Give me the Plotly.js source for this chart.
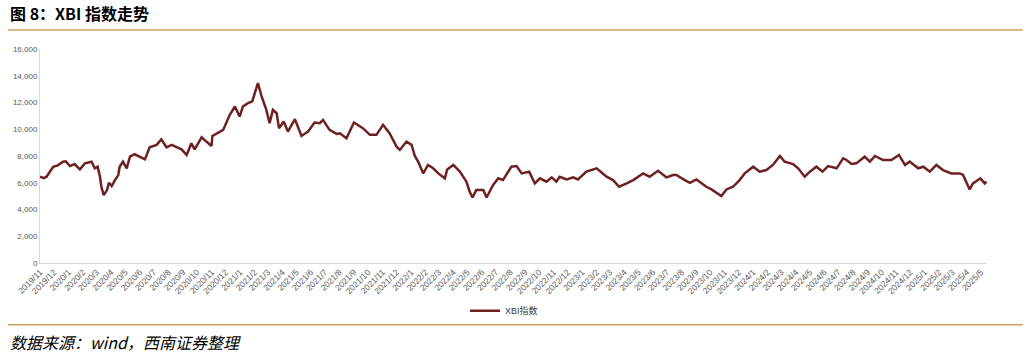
<!DOCTYPE html>
<html>
<head>
<meta charset="utf-8">
<script src="https://cdn.plot.ly/plotly-3.0.1.min.js"></script>
<style>
  html, body { margin: 0; padding: 0; background: #ffffff; }
  #chart { width: 1032px; height: 357px; }
</style>
</head>
<body>
<div id="chart"></div>
<script>
// ---- data ----
const seriesName = "XBI指数";
const dates = [
  "2019-11-01","2019-11-09","2019-11-15","2019-11-29","2019-12-09","2019-12-20","2019-12-26",
  "2020-01-04","2020-01-14","2020-01-25","2020-02-05","2020-02-19","2020-02-26","2020-03-03",
  "2020-03-08","2020-03-11","2020-03-16","2020-03-23","2020-03-27","2020-04-02","2020-04-09",
  "2020-04-16","2020-04-19","2020-04-26","2020-05-04","2020-05-11","2020-05-21","2020-06-01",
  "2020-06-12","2020-06-22","2020-07-07","2020-07-17","2020-07-28","2020-08-08","2020-08-18",
  "2020-08-29","2020-09-09","2020-09-19","2020-09-26","2020-10-11","2020-10-21","2020-11-01",
  "2020-11-03","2020-11-15","2020-11-26","2020-12-10","2020-12-21","2020-12-31","2021-01-07",
  "2021-01-18","2021-01-27","2021-02-08","2021-02-16","2021-02-26","2021-03-05","2021-03-12",
  "2021-03-20","2021-03-25","2021-04-04","2021-04-13","2021-04-28","2021-05-12","2021-05-26",
  "2021-06-09","2021-06-20","2021-06-27","2021-07-11","2021-07-26","2021-08-02","2021-08-16",
  "2021-09-01","2021-09-20","2021-10-05","2021-10-19","2021-11-02","2021-11-16","2021-12-01",
  "2021-12-08","2021-12-22","2022-01-02","2022-01-09","2022-01-16","2022-01-27","2022-02-06",
  "2022-02-17","2022-02-28","2022-03-14","2022-03-19","2022-04-01","2022-04-15","2022-04-29",
  "2022-05-06","2022-05-12","2022-05-20","2022-06-04","2022-06-11","2022-06-25","2022-07-06",
  "2022-07-16","2022-08-03","2022-08-14","2022-08-25","2022-09-10","2022-09-22","2022-10-03",
  "2022-10-17","2022-10-28","2022-11-07","2022-11-14","2022-11-29","2022-12-13","2022-12-23",
  "2023-01-10","2023-02-01","2023-02-22","2023-03-08","2023-03-21","2023-04-06","2023-04-20",
  "2023-05-11","2023-05-25","2023-06-12","2023-06-30","2023-07-14","2023-07-21","2023-08-08",
  "2023-08-19","2023-09-02","2023-09-23","2023-10-04","2023-10-25","2023-11-05","2023-11-19",
  "2023-12-03","2023-12-14","2024-01-01","2024-01-15","2024-01-29","2024-02-12","2024-02-27",
  "2024-03-08","2024-03-26","2024-04-06","2024-04-20","2024-05-01","2024-05-15","2024-05-28",
  "2024-06-09","2024-06-27","2024-07-11","2024-07-18","2024-07-29","2024-08-08","2024-08-26",
  "2024-09-06","2024-09-17","2024-10-04","2024-10-22","2024-11-07","2024-11-20","2024-11-30",
  "2024-12-18","2024-12-29","2025-01-12","2025-01-26","2025-02-09","2025-02-27","2025-03-17",
  "2025-03-24","2025-04-07","2025-04-14","2025-04-30","2025-05-09","2025-05-13"
];
const xbiValues = [
  6450,6350,6450,7200,7300,7575,7600,
  7250,7400,7000,7450,7575,7080,7200,
  6450,5700,5080,5450,6000,5750,6200,
  6575,7200,7575,7075,7950,8130,7950,
  7750,8650,8830,9250,8650,8830,8650,
  8500,8080,8950,8500,9400,9080,8750,
  9500,9750,9950,11080,11700,10950,11700,
  11950,12080,13450,12450,11450,10450,11450,
  11200,10080,10580,9830,10750,9500,9830,
  10500,10450,10700,9950,9650,9700,9330,
  10500,10080,9580,9580,10330,9700,8700,
  8450,9080,8830,8000,7575,6700,7330,
  7080,6700,6330,7000,7330,6830,6080,
  5330,4900,5450,5450,4900,5830,6330,
  6200,7200,7250,6700,6830,5950,6330,
  6080,6400,6080,6450,6250,6400,6250,
  6830,7080,6450,6200,5700,5950,6200,
  6700,6450,6900,6400,6580,6580,6200,
  6000,6250,5700,5500,5000,5500,5700,
  6200,6700,7200,6830,6950,7330,8000,
  7580,7400,7080,6450,6830,7200,6830,
  7250,7080,7830,7700,7400,7450,7950,
  7580,8000,7700,7700,8080,7330,7580,
  7080,7200,6830,7330,6950,6700,6700,
  6580,5500,5950,6330,5950,6080
];
const titleText = "图 8：XBI 指数走势";
const sourceText = "数据来源：wind，西南证券整理";
const yTickVals = [0,2000,4000,6000,8000,10000,12000,14000,16000];

const lineColor = "#6e2121";
const ruleColor = "#c9a25f";
const tickColor = "#595959";

const trace = {
  type: "scatter",
  mode: "lines",
  name: seriesName,
  x: dates,
  y: xbiValues,
  line: { color: lineColor, width: 2.5 },
  hoverinfo: "x+y"
};

const layout = {
  width: 1032,
  height: 357,
  margin: { l: 40, r: 45, t: 49, b: 94 },
  paper_bgcolor: "#ffffff",
  plot_bgcolor: "#ffffff",
  font: { family: "Liberation Sans, Arial, sans-serif", size: 8, color: tickColor },
  showlegend: true,
  legend: {
    orientation: "h",
    x: 0.49, xanchor: "center",
    y: -0.155, yanchor: "top",
    font: { family: "Liberation Sans, Noto Sans CJK SC, sans-serif", size: 9, color: "#404040" },
    itemwidth: 30,
    bgcolor: "rgba(0,0,0,0)"
  },
  xaxis: {
    type: "date",
    range: ["2019-11-01", "2025-05-14"],
    tick0: "2019-11-01",
    dtick: "M1",
    tickformat: "%Y/%-m",
    tickangle: -45,
    tickfont: { family: "Liberation Sans, Arial, sans-serif", size: 8.5, color: tickColor },
    showgrid: false,
    zeroline: false,
    showline: true,
    linecolor: "#d9d9d9",
    linewidth: 1,
    ticks: "",
    fixedrange: true
  },
  yaxis: {
    range: [0, 16000],
    tickvals: yTickVals,
    tickformat: ",",
    tickfont: { family: "Liberation Sans, Arial, sans-serif", size: 8, color: tickColor },
    showgrid: false,
    zeroline: false,
    showline: true,
    linecolor: "#d9d9d9",
    linewidth: 1,
    ticks: "",
    ticklen: 0,
    fixedrange: true
  },
  shapes: [
    { type: "line", xref: "paper", yref: "paper",
      x0: -0.034, x1: 1.038, y0: 1.089, y1: 1.089,
      line: { color: ruleColor, width: 1.5 } },
    { type: "line", xref: "paper", yref: "paper",
      x0: -0.034, x1: 1.038, y0: -0.289, y1: -0.289,
      line: { color: ruleColor, width: 1.5 } }
  ],
  annotations: [
    { text: "<b>" + titleText + "</b>", xref: "paper", yref: "paper",
      x: -0.034, y: 1.168, xanchor: "left", yanchor: "middle", showarrow: false,
      font: { family: "Noto Sans CJK SC, sans-serif", size: 16, color: "#000000" } },
    { text: sourceText, xref: "paper", yref: "paper",
      x: -0.034, y: -0.37, xanchor: "left", yanchor: "middle", showarrow: false,
      font: { family: "Noto Sans CJK SC, sans-serif", size: 16, color: "#000000", style: "italic" } }
  ]
};

Plotly.newPlot("chart", [trace], layout, { displayModeBar: false, staticPlot: true });
</script>
</body>
</html>
